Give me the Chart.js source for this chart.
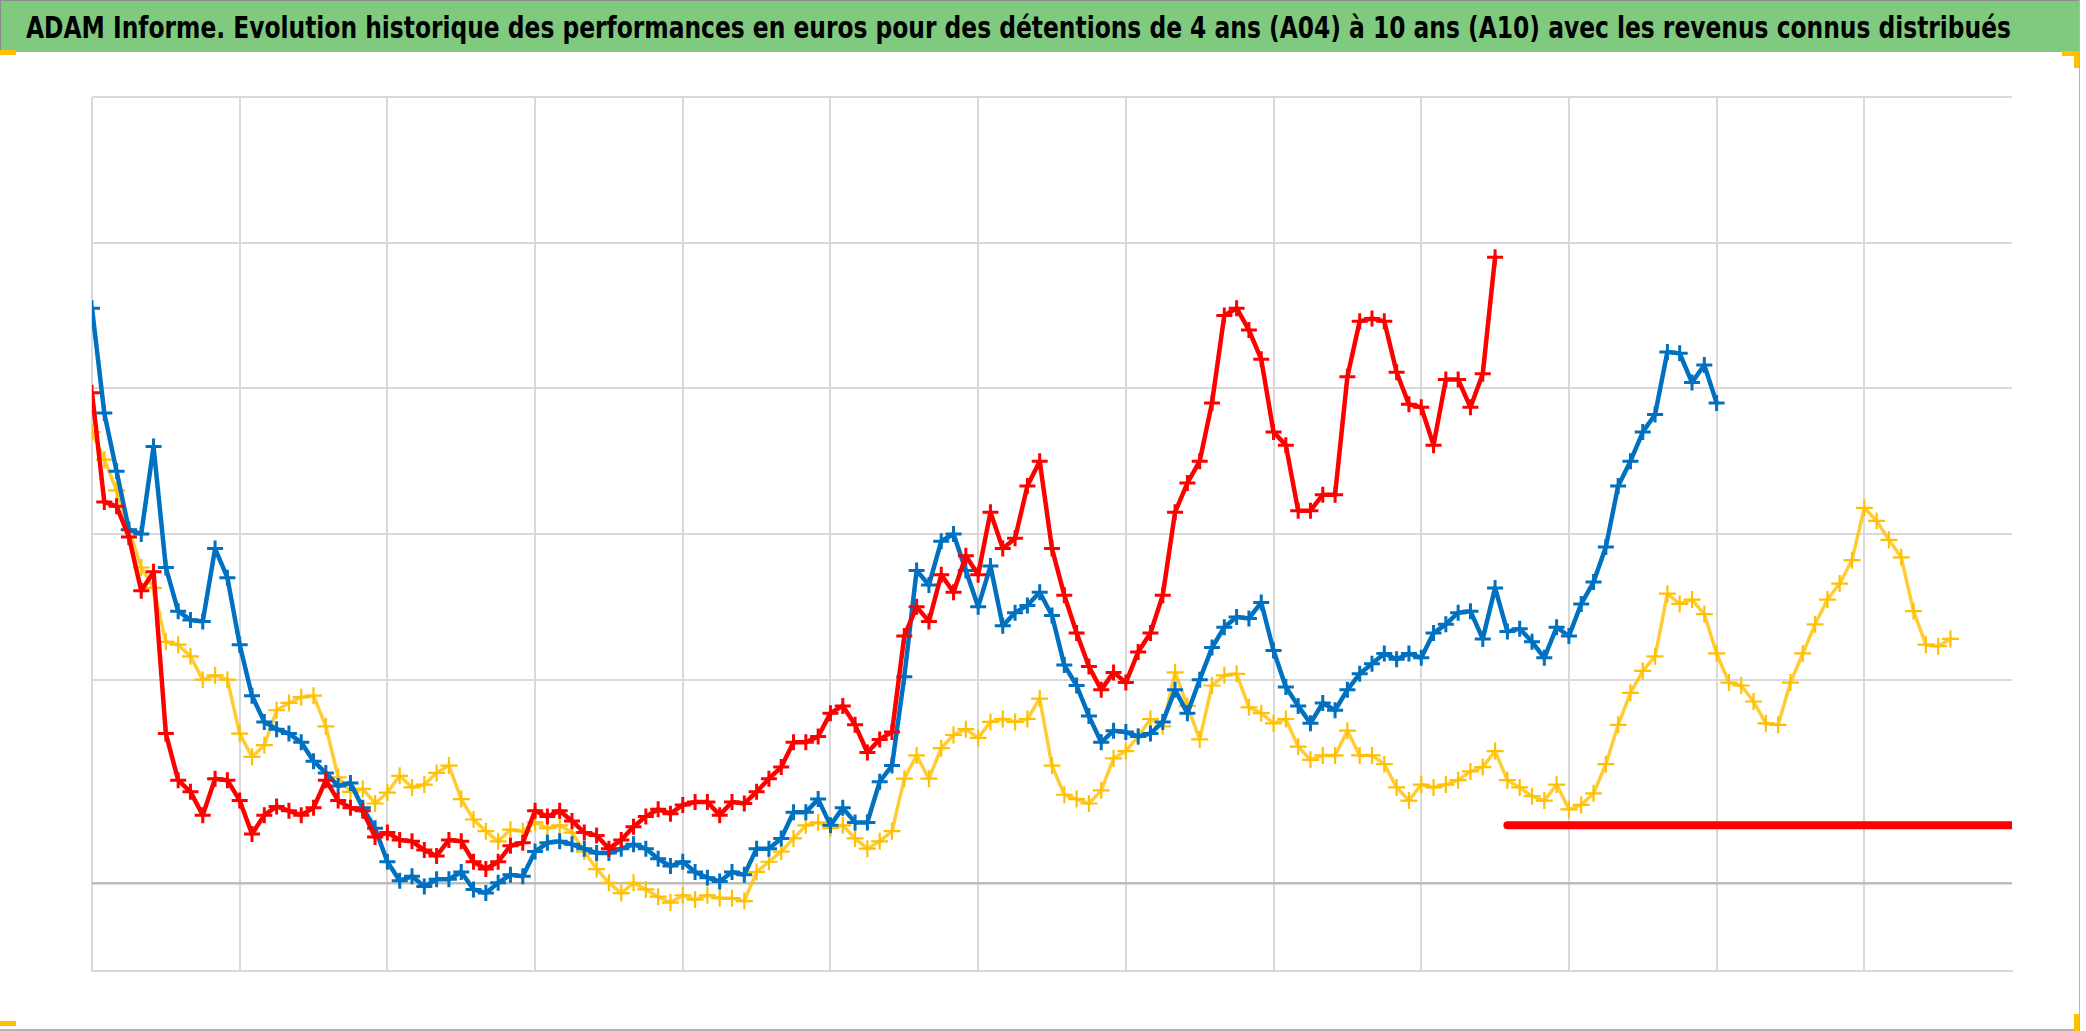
<!DOCTYPE html>
<html>
<head>
<meta charset="utf-8">
<title>ADAM Informe</title>
<script src="https://cdn.jsdelivr.net/npm/chart.js@4.4.1/dist/chart.umd.min.js"></script>
<style>
	html, body { margin: 0; padding: 0; background: #ffffff; }
	#page { position: relative; width: 2086px; height: 1031px; overflow: hidden; background: #ffffff; }
	#title-bar { position: absolute; left: 0; top: 0; width: 2080px; height: 52px; background: #7fca7f;
		border-top: 1px solid #8c8c8c; border-left: 1px solid #8c8c8c; box-sizing: border-box; }
	#title-text { position: absolute; left: 26px; top: 13px; white-space: nowrap; color: #000000;
		font-family: "Liberation Sans Narrow", "DejaVu Sans Condensed", "Liberation Sans", sans-serif;
		font-weight: bold; font-size: 30px; line-height: 30px; transform-origin: 0 0; }
	#chart-canvas { position: absolute; left: 0; top: 0; }
	.frame { position: absolute; background: #b4b4b4; }
	.handle { position: absolute; background: #ffc000; }
</style>
</head>
<body>
<div id="page">
	<canvas id="chart-canvas" width="2086" height="1031"></canvas>
	<div id="title-bar"></div>
	<span id="title-text">ADAM Informe. Evolution historique des performances en euros pour des détentions de 4 ans (A04) à 10 ans (A10) avec les revenus connus distribués</span>
	<div class="frame" style="left:2079px; top:0; width:1px; height:1031px;"></div>
	<div class="frame" style="left:0; top:1029px; width:2080px; height:2px;"></div>
	<div class="handle" style="left:0; top:50px; width:16px; height:5px;"></div>
	<div class="handle" style="left:2062px; top:51px; width:17px; height:5px;"></div>
	<div class="handle" style="left:2074px; top:51px; width:5px; height:17px;"></div>
	<div class="handle" style="left:0; top:1021px; width:16px; height:5px;"></div>
	<div class="handle" style="left:2074px; top:1014px; width:5px; height:17px;"></div>
</div>
<script>
// one value every 1/12 of a vertical grid interval
var pointsPerGrid = 12;

// A10 (red)
var redValues = [
	3370, 2620, 2590, 2380, 2010, 2140, 1030, 710, 630, 470,
	720, 710, 570, 340, 470, 530, 500, 470, 520, 710,
	570, 520, 500, 320, 350, 300, 290, 230, 190, 300,
	290, 150, 100, 150, 260, 280, 500, 460, 500, 430,
	350, 330, 240, 300, 390, 460, 510, 480, 540, 560,
	560, 470, 560, 550, 630, 720, 800, 970, 970, 1010,
	1170, 1220, 1090, 900, 990, 1040, 1700, 1900, 1800, 2120,
	2000, 2250, 2120, 2550, 2300, 2370, 2730, 2900, 2300, 1980,
	1720, 1490, 1330, 1450, 1380, 1590, 1720, 1980, 2550, 2750,
	2900, 3300, 3900, 3950, 3800, 3600, 3100, 3010, 2560, 2560,
	2670, 2670, 3480, 3860, 3880, 3860, 3510, 3290, 3270, 3010,
	3460, 3460, 3270, 3500, 4300
];
// red flat level after the last known A10 value
var redTailValues = [
	400, 400, 400, 400, 400, 400, 400, 400, 400, 400,
	400, 400, 400, 400, 400, 400, 400, 400, 400, 400,
	400, 400, 400, 400, 400, 400, 400, 400, 400, 400,
	400, 400, 400, 400, 400, 400, 400, 400, 400, 400,
	400, 400
];

// blue
var blueValues = [
	3950, 3230, 2830, 2430, 2400, 3000, 2170, 1870, 1810, 1800,
	2300, 2100, 1640, 1290, 1110, 1060, 1030, 970, 840, 760,
	670, 690, 520, 380, 150, 20, 50, -20, 30, 30,
	80, -40, -65, 5, 60, 50, 220, 280, 290, 270,
	240, 210, 210, 240, 270, 240, 170, 120, 150, 80,
	40, 15, 80, 60, 240, 240, 310, 490, 490, 580,
	400, 520, 420, 420, 700, 810, 1420, 2150, 2050, 2350,
	2400, 2150, 1900, 2180, 1770, 1860, 1910, 2000, 1840, 1500,
	1360, 1150, 970, 1050, 1040, 1010, 1030, 1110, 1330, 1170,
	1400, 1620, 1760, 1830, 1820, 1930, 1600, 1350, 1220, 1100,
	1240, 1190, 1330, 1440, 1510, 1580, 1540, 1580, 1550, 1720,
	1780, 1860, 1870, 1680, 2030, 1730, 1750, 1660, 1550, 1760,
	1700, 1920, 2070, 2310, 2730, 2900, 3100, 3220, 3650, 3640,
	3440, 3560, 3300
];

// A04 (yellow)
var yellowValues = [
	3100, 2910, 2700, 2430, 2170, 2030, 1660, 1640, 1560, 1400,
	1430, 1400, 1030, 870, 950, 1190, 1240, 1280, 1290, 1080,
	730, 630, 650, 550, 625, 740, 660, 680, 760, 810,
	580, 440, 360, 290, 370, 360, 420, 380, 400, 350,
	220, 100, 5, -65, 5, -40, -90, -130, -80, -110,
	-80, -100, -100, -120, 80, 150, 220, 310, 400, 420,
	380, 400, 310, 240, 290, 360, 720, 880, 720, 930,
	1020, 1060, 1000, 1110, 1130, 1110, 1130, 1270, 810, 610,
	580, 550, 640, 860, 910, 1010, 1130, 1080, 1450, 1220,
	990, 1360, 1430, 1440, 1210, 1170, 1100, 1130, 940, 850,
	880, 880, 1050, 880, 880, 820, 660, 570, 680, 660,
	680, 710, 770, 800, 910, 710, 660, 600, 570, 680,
	510, 540, 620, 820, 1090, 1310, 1460, 1560, 1990, 1920,
	1950, 1850, 1580, 1380, 1360, 1250, 1100, 1090, 1380, 1580,
	1780, 1950, 2060, 2220, 2580, 2490, 2360, 2240, 1870, 1640,
	1630, 1680
];

// axes: 13 vertical grid intervals, value gridlines (0 is the axis line)
var xGridCount = 13;
var yMin = -600;
var yMax = 5400;
var yGridValues = [-600, 0, 1400, 2400, 3400, 4400, 5400];

function toPoints(values, firstIndex) {
	var points = [];
	for (var i = 0; i < values.length; i++)
		points.push({x: (firstIndex + i) / pointsPerGrid, y: values[i]});
	return points;
}

function fitTitle() {
	var titleElement = document.getElementById("title-text");
	var titleWidth = titleElement.getBoundingClientRect().width;
	titleElement.style.transform = "scaleX(" + (1985 / titleWidth) + ")";
}

// the original plots dense daily crosses; a thin trace under big crosses stands in for that band
function crossSeries(label, points, color, traceColor, radius, width, traceWidth) {
	return {
		label: label,
		data: points,
		showLine: traceWidth > 0,
		borderWidth: traceWidth,
		borderJoinStyle: "round",
		borderCapStyle: "round",
		borderColor: traceColor,
		pointStyle: "cross",
		pointRadius: radius,
		pointBorderWidth: width,
		pointBorderColor: color,
		pointBackgroundColor: color,
		backgroundColor: color
	};
}

window.onload = function() {
	fitTitle();

	new Chart(document.getElementById("chart-canvas"), {
		type: "scatter",
		data: {
			datasets: [
				crossSeries("A10", toPoints(redValues, 0), "#ff0000", "#ff0000", 8, 3, 4.5),
				crossSeries("A10 fin", toPoints(redTailValues, redValues.length), "#ff0000", "#ff0000", 0, 0, 8),
				crossSeries("bleu", toPoints(blueValues, 0), "#0070c0", "#0070c0", 8, 3, 4.5),
				crossSeries("A04", toPoints(yellowValues, 0), "#ffc000", "rgba(255,192,0,0.8)", 8.5, 2.2, 3.5)
			]
		},
		options: {
			responsive: false,
			animation: false,
			events: [],
			layout: {
				padding: {left: 92, top: 97, right: 74, bottom: 60}
			},
			plugins: {
				legend: {display: false},
				title: {display: false},
				tooltip: {enabled: false}
			},
			scales: {
				x: {
					type: "linear",
					min: 0,
					max: xGridCount,
					ticks: {display: false, stepSize: 1},
					grid: {
						drawTicks: false,
						lineWidth: 2,
						color: function(context) {
							return (context.tick && context.tick.value === xGridCount) ? "rgba(0,0,0,0)" : "#d9d9d9";
						}
					},
					border: {display: true, color: "#d9d9d9", width: 2}
				},
				y: {
					type: "linear",
					min: yMin,
					max: yMax,
					afterBuildTicks: function(scale) {
						scale.ticks = yGridValues.map(function(v) { return {value: v}; });
					},
					ticks: {display: false},
					grid: {
						drawTicks: false,
						lineWidth: function(context) {
							return (context.tick && context.tick.value === 0) ? 2.5 : 2;
						},
						color: function(context) {
							return (context.tick && context.tick.value === 0) ? "#bcbcbc" : "#d9d9d9";
						}
					},
					border: {display: false}
				}
			}
		}
	});
}
</script>
</body>
</html>
